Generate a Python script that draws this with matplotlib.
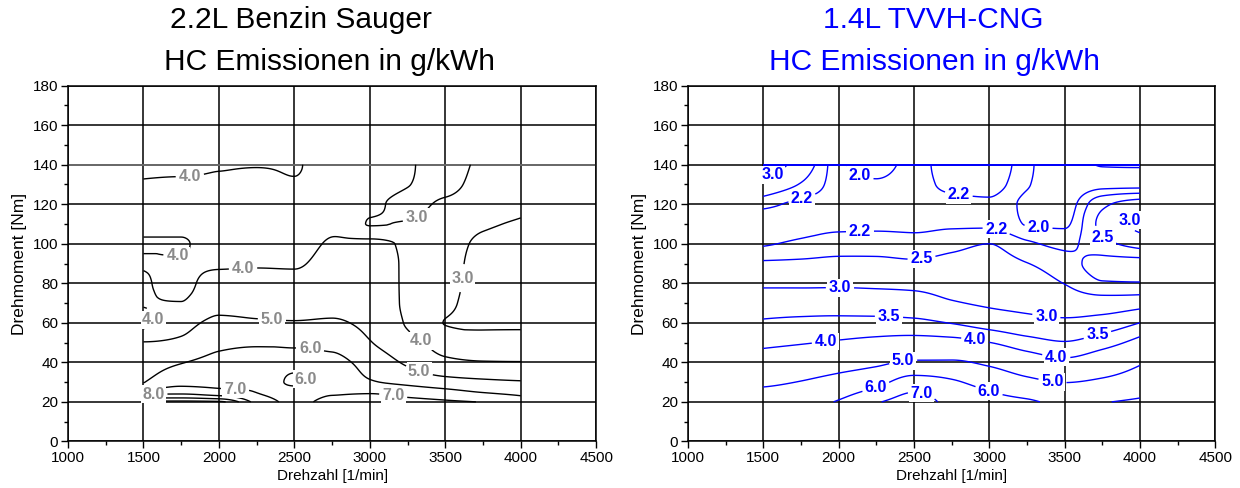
import numpy as np
import matplotlib
matplotlib.use("Agg")
import matplotlib.pyplot as plt
from matplotlib.ticker import MultipleLocator

plt.rcParams['font.family'] = ['Liberation Sans', 'DejaVu Sans']

# ---------------- data ----------------
rpm = np.array([1500, 1750, 2000, 2250, 2500, 2750, 3000, 3250, 3500, 3750, 4000])

# 2.2L Benzin Sauger: HC [g/kWh], rows = torque, cols = rpm
torque_benzin = np.array([20, 25, 30, 40, 50, 60, 70, 80, 90, 100, 110, 120, 130, 140])
hc_benzin = np.array([
    [10.2, 10.3, 10.2, 7.70, 6.80, 7.25, 7.40, 7.30, 7.15, 6.95, 6.40],
    [7.40, 7.65, 7.30, 6.98, 6.50, 6.90, 6.90, 6.60, 6.30, 5.95, 5.75],
    [5.95, 6.70, 6.70, 6.85, 5.80, 6.70, 6.10, 5.75, 5.40, 5.20, 5.08],
    [5.50, 5.95, 6.30, 6.50, 6.25, 6.25, 5.60, 4.85, 4.20, 4.05, 4.03],
    [5.03, 5.20, 5.75, 5.85, 5.85, 5.75, 5.05, 4.35, 3.60, 3.40, 3.40],
    [3.75, 4.60, 5.20, 5.10, 5.05, 5.10, 4.75, 3.90, 2.98, 2.85, 2.85],
    [4.05, 4.02, 4.70, 4.70, 4.70, 4.75, 4.50, 3.85, 3.20, 2.70, 2.65],
    [4.12, 3.85, 4.30, 4.35, 4.30, 4.50, 4.35, 3.88, 3.35, 2.65, 2.55],
    [3.95, 3.95, 3.90, 3.92, 3.90, 4.30, 4.25, 3.90, 3.40, 2.70, 2.60],
    [4.05, 4.05, 3.70, 3.70, 3.65, 4.10, 4.20, 3.85, 3.40, 2.85, 2.75],
    [3.80, 3.80, 3.60, 3.55, 3.50, 3.80, 2.97, 3.05, 3.25, 3.08, 2.93],
    [3.60, 3.60, 3.65, 3.55, 3.55, 3.60, 3.15, 2.88, 3.08, 3.20, 3.15],
    [3.90, 3.85, 3.85, 3.75, 3.93, 3.55, 3.35, 3.02, 2.85, 3.20, 3.25],
    [4.30, 4.30, 4.08, 4.05, 4.05, 3.60, 3.50, 3.10, 2.70, 3.15, 3.30],
])
levels_benzin = [3.0, 4.0, 5.0, 6.0, 7.0, 8.0, 9.0, 10.0]

# 1.4L TVVH-CNG: HC [g/kWh]
torque_cng = np.array([20, 30, 40, 50, 60, 70, 80, 90, 100, 110, 120, 130, 140])
hc_cng = np.array([
    [5.45, 5.60, 6.08, 6.90, 7.45, 6.70, 6.35, 6.15, 5.75, 5.95, 6.15],
    [4.86, 5.03, 5.31, 5.71, 6.45, 6.12, 5.67, 5.23, 4.98, 5.15, 5.45],
    [4.33, 4.49, 4.65, 4.83, 5.11, 5.11, 4.83, 4.42, 4.16, 4.46, 4.91],
    [3.88, 3.96, 4.06, 4.17, 4.26, 4.22, 4.01, 3.70, 3.53, 3.77, 4.21],
    [3.56, 3.61, 3.64, 3.64, 3.61, 3.48, 3.29, 3.15, 3.09, 3.20, 3.50],
    [3.25, 3.26, 3.26, 3.25, 3.21, 3.04, 2.94, 2.87, 2.77, 2.73, 2.80],
    [2.92, 2.92, 2.93, 2.91, 2.88, 2.82, 2.79, 2.69, 2.49, 2.22, 2.21],
    [2.56, 2.58, 2.61, 2.60, 2.56, 2.62, 2.65, 2.51, 2.31, 2.12, 2.12],
    [2.17, 2.25, 2.33, 2.34, 2.31, 2.40, 2.50, 2.25, 2.14, 2.40, 2.65],
    [2.05, 2.12, 2.15, 2.15, 2.15, 2.17, 2.17, 1.99, 1.97, 2.62, 3.15],
    [2.28, 2.15, 2.12, 2.10, 2.13, 2.15, 2.17, 1.95, 1.90, 2.42, 2.70],
    [2.90, 2.47, 2.10, 2.03, 2.12, 2.25, 2.30, 2.02, 1.87, 1.95, 1.95],
    [3.30, 2.80, 2.05, 1.90, 2.12, 2.28, 2.38, 2.05, 1.85, 2.02, 2.03],
])
levels_cng = [2.0, 2.2, 2.5, 3.0, 3.5, 4.0, 5.0, 6.0, 7.0]

titles_left = ["2.2L Benzin Sauger", "HC Emissionen in g/kWh"]
titles_right = ["1.4L TVVH-CNG", "HC Emissionen in g/kWh"]
xlabel = "Drehzahl [1/min]"
ylabel = "Drehmoment [Nm]"

# label placement (level, rpm, torque)
labels_benzin = [(4.0, 1809, 133), (3.0, 3278, 118.7), (4.0, 1726, 94), (4.0, 2160, 87.5),
                 (3.0, 3686, 82), (4.0, 1655, 61.8), (5.0, 2350, 60), (6.0, 2604, 46.5),
                 (4.0, 3333, 50.4), (6.0, 2571, 31.3), (5.0, 3322, 34.3), (8.0, 1566, 22),
                 (7.0, 2107, 26.2), (7.0, 3155, 23.1)]
labels_cng = [(3.0, 1577, 133), (2.2, 1754, 124), (2.0, 2120, 131), (2.2, 2794, 122.8),
              (2.2, 2142, 106.4), (2.2, 3049, 107.6), (2.0, 3325, 106.7), (3.0, 3912, 113.4),
              (2.5, 3757, 103.4), (2.5, 2551, 92.4), (3.0, 2009, 77.7), (3.5, 2334, 62.5),
              (3.0, 3376, 61.5), (3.5, 3719, 53.6), (4.0, 1916, 50.5), (4.0, 2907, 51.2),
              (4.0, 3443, 41.8), (5.0, 2430, 39.6), (5.0, 3418, 29.5), (6.0, 2248, 27.4),
              (7.0, 2555, 25), (6.0, 3000, 26)]


# ---------------- smooth (monotone cubic) resampling of the grids ----------------
def pchip_1d(x, y, xn):
    x = np.asarray(x, float)
    y = np.asarray(y, float)
    h = np.diff(x)
    delta = np.diff(y) / h
    n = len(x)
    d = np.zeros(n)
    for k in range(1, n - 1):
        if delta[k - 1] * delta[k] > 0:
            w1 = 2 * h[k] + h[k - 1]
            w2 = h[k] + 2 * h[k - 1]
            d[k] = (w1 + w2) / (w1 / delta[k - 1] + w2 / delta[k])

    def end(h0, h1, d0, d1):
        v = ((2 * h0 + h1) * d0 - h0 * d1) / (h0 + h1)
        if np.sign(v) != np.sign(d0):
            v = 0.0
        elif np.sign(d0) != np.sign(d1) and abs(v) > abs(3 * d0):
            v = 3 * d0
        return v

    d[0] = end(h[0], h[1], delta[0], delta[1])
    d[-1] = end(h[-1], h[-2], delta[-1], delta[-2])
    idx = np.clip(np.searchsorted(x, xn) - 1, 0, n - 2)
    t = (xn - x[idx]) / h[idx]
    h00 = 2 * t ** 3 - 3 * t ** 2 + 1
    h10 = t ** 3 - 2 * t ** 2 + t
    h01 = -2 * t ** 3 + 3 * t ** 2
    h11 = t ** 3 - t ** 2
    return h00 * y[idx] + h10 * h[idx] * d[idx] + h01 * y[idx + 1] + h11 * h[idx] * d[idx + 1]


def resample(xs, ys, z, nx=251, ny=241):
    xf = np.linspace(xs.min(), xs.max(), nx)
    yf = np.linspace(ys.min(), ys.max(), ny)
    tmp = np.array([pchip_1d(xs, row, xf) for row in z])
    out = np.array([pchip_1d(ys, col, yf) for col in tmp.T]).T
    return xf, yf, out


# ---------------- plot ----------------
fig = plt.figure(figsize=(12.4, 4.88), dpi=100)
ax1 = fig.add_axes([0.0548, 0.0955, 0.4260, 0.7290])
ax2 = fig.add_axes([0.5548, 0.0955, 0.4252, 0.7290])


def style_axes(ax):
    ax.set_xlim(1000, 4500)
    ax.set_ylim(0, 180)
    ax.xaxis.set_major_locator(MultipleLocator(500))
    ax.xaxis.set_minor_locator(MultipleLocator(250))
    ax.yaxis.set_major_locator(MultipleLocator(20))
    ax.yaxis.set_minor_locator(MultipleLocator(10))
    ax.set_axisbelow(True)
    ax.grid(True, which='major', color='black', lw=1.1)
    ax.tick_params(which='major', direction='out', length=5, width=1, labelsize=11, pad=2)
    ax.tick_params(which='minor', direction='out', length=3, width=1)
    for s in ax.spines.values():
        s.set_linewidth(1.1)
    ax.set_xlabel(xlabel, fontsize=11, labelpad=3)
    ax.set_ylabel(ylabel, fontsize=12.5, labelpad=4)


def draw(ax, z, y, levels, labels, lcolor, tcolor):
    xf, yf, zf = resample(rpm, y, z)
    for lev in levels:
        cs = ax.contour(xf, yf, zf, levels=[lev], colors=lcolor, linewidths=1.0, zorder=3)
        pos = [(xx, yy) for l, xx, yy in labels if l == lev]
        if not pos:
            continue
        texts = cs.clabel(manual=pos, fmt='%.1f', fontsize=11.5,
                          inline=True, inline_spacing=3, colors=tcolor)
        for t in texts:
            t.set_rotation(0)
            t.set_fontweight('bold')
            t.set_color(tcolor)
            t.set_bbox(dict(facecolor='white', edgecolor='none', pad=1.0))
            t.set_zorder(4)


style_axes(ax1)
style_axes(ax2)

draw(ax1, hc_benzin, torque_benzin, levels_benzin, labels_benzin, 'black', '#8a8a8a')
ax1.axhline(torque_benzin.max(), color='#707070', lw=1.3, zorder=2)

draw(ax2, hc_cng, torque_cng, levels_cng, labels_cng, '#0000ff', '#0000ff')
ax2.hlines(torque_cng.max(), rpm.min(), rpm.max(), color='#0000ff', lw=1.4, zorder=3)

fig.text(0.243, 0.958, titles_left[0], ha='center', va='center', fontsize=21.5, color='black')
fig.text(0.266, 0.872, titles_left[1], ha='center', va='center', fontsize=21.5, color='black')
fig.text(0.753, 0.958, titles_right[0], ha='center', va='center', fontsize=21.5, color='#0000ff')
fig.text(0.754, 0.872, titles_right[1], ha='center', va='center', fontsize=21.5, color='#0000ff')

fig.savefig("out.png", dpi=100)
